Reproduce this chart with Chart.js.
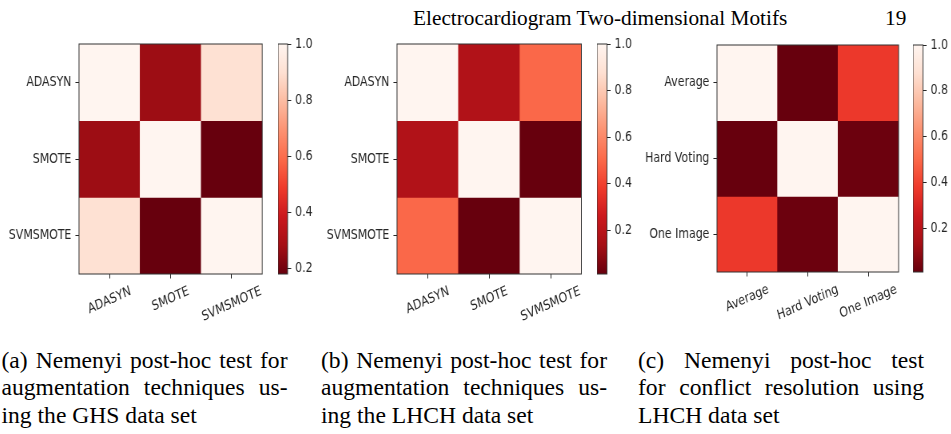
<!DOCTYPE html>
<html>
<head>
<meta charset="utf-8">
<script src="https://cdn.jsdelivr.net/npm/chart.js@4.4.1/dist/chart.umd.min.js"></script>
<style>
  body { margin:0; background:#fff; width:951px; height:434px; overflow:hidden; position:relative; font-family:'Liberation Serif', serif; color:#000; }
  canvas { position:absolute; top:0; transform-origin:0 0; transform:scaleX(0.8); }
  .hdr { position:absolute; top:4.8px; font-size:21.3px; line-height:26px; white-space:nowrap; }
  .cap { position:absolute; top:346.5px; width:286px; font-size:23.6px; line-height:27.5px; }
  .cap div { text-align:justify; text-align-last:justify; }
  .cap div.last { text-align-last:left; }
</style>
</head>
<body>
<div class="hdr" style="left:413px">Electrocardiogram Two-dimensional Motifs</div>
<div class="hdr" style="left:885px">19</div>

<div class="cap" style="left:1.5px">
  <div>(a) Nemenyi post-hoc test for</div>
  <div>augmentation techniques us-</div>
  <div class="last">ing the GHS data set</div>
</div>
<div class="cap" style="left:321px">
  <div>(b) Nemenyi post-hoc test for</div>
  <div>augmentation techniques us-</div>
  <div class="last">ing the LHCH data set</div>
</div>
<div class="cap" style="left:638px">
  <div>(c) Nemenyi post-hoc test</div>
  <div>for conflict resolution using</div>
  <div class="last">LHCH data set</div>
</div>

<script>
// categories
const labelsAug = ['ADASYN', 'SMOTE', 'SVMSMOTE'];
const labelsConf = ['Average', 'Hard Voting', 'One Image'];
// p-values (rows x cols)
const pvalGHS  = [[1.0, 0.27, 0.90], [0.27, 1.0, 0.18], [0.90, 0.18, 1.0]];
const pvalLHCH = [[1.0, 0.175, 0.50], [0.175, 1.0, 0.012], [0.50, 0.012, 1.0]];
const pvalConf = [[1.0, 0.01, 0.37], [0.01, 1.0, 0.02], [0.37, 0.02, 1.0]];
// colorbar tick labels
const cbTicks = [0.2, 0.4, 0.6, 0.8, 1.0];

// matplotlib "Reds" colormap stops
const REDS = [
  [255,245,240],[254,224,210],[252,187,161],[252,146,114],[251,106,74],
  [239,59,44],[203,24,29],[165,15,21],[103,0,13]
];
const SX = 0.8;          // horizontal squash of the figure
const INK = '#262626';

Chart.defaults.font.family = 'DejaVu Sans';
Chart.defaults.font.size = 13.7;
Chart.defaults.color = INK;

function rgb(c) { return 'rgb(' + c.map(Math.round).join(',') + ')'; }

// reversed Reds: high value -> light
function redsR(v, vmin, vmax) {
  const t = (v - vmin) / (vmax - vmin);
  const p = Math.min(8, Math.max(0, (1 - t) * 8));
  const i = Math.min(7, Math.floor(p));
  const f = p - i;
  const a = REDS[i], b = REDS[i + 1];
  return rgb([0, 1, 2].map(k => a[k] + (b[k] - a[k]) * f));
}

const frame = {
  id: 'frame',
  afterDraw(chart) {
    const a = chart.chartArea, c = chart.ctx;
    c.save();
    c.strokeStyle = '#333';
    c.lineWidth = 1;
    c.strokeRect(a.left, a.top, a.right - a.left, a.bottom - a.top);
    c.restore();
  }
};

// rotated x labels centred under their ticks (like matplotlib rotation=20)
const xLabels = {
  id: 'xLabels',
  afterDraw(chart) {
    const xs = chart.scales.x, c = chart.ctx;
    const ang = 20 * Math.PI / 180;
    c.save();
    c.font = '13.7px "DejaVu Sans"';
    c.fillStyle = INK;
    c.textAlign = 'center';
    c.textBaseline = 'middle';
    xs.getLabels().forEach((lab, i) => {
      const x = xs.getPixelForTick(i);
      const w = c.measureText(lab).width;
      const bh = w * Math.sin(ang) + 15.9 * Math.cos(ang);
      const y = chart.chartArea.bottom + 4.5 + 5 + bh / 2;
      c.save();
      c.translate(x, y);
      c.rotate(-ang);
      c.fillText(lab, 0, 0);
      c.restore();
    });
    c.restore();
  }
};

function makeCanvas(left, w, h) {
  const cv = document.createElement('canvas');
  cv.width = w;
  cv.height = h;
  cv.style.left = left + 'px';
  document.body.appendChild(cv);
  return cv.getContext('2d');
}

function heatmap(p) {
  const Ya = 95, H = 335;
  const boxW = (p.boxR - p.boxL) / SX;
  const W = Math.ceil(Ya + boxW + 30);
  const ctx = makeCanvas(p.boxL - SX * Ya, W, H);
  const flat = p.values.flat();
  const vmin = Math.min(...flat), vmax = Math.max(...flat);
  new Chart(ctx, {
    type: 'bar',
    data: {
      labels: p.labels,
      datasets: p.labels.map((_, r) => ({
        data: p.labels.map(() => [r, r + 1]),
        backgroundColor: p.values[r].map(v => redsR(v, vmin, vmax)),
        grouped: false,
        barPercentage: 1,
        categoryPercentage: 1,
        borderWidth: 0
      }))
    },
    options: {
      responsive: false,
      animation: false,
      layout: { padding: { top: p.boxT, left: 0, bottom: 0, right: W - Ya - boxW } },
      plugins: { legend: { display: false }, tooltip: { enabled: false } },
      scales: {
        x: {
          offset: true,
          border: { display: false },
          grid: { offset: false, drawOnChartArea: false, tickLength: 4.5, color: INK },
          ticks: { display: false },
          afterFit: s => { s.height = H - p.boxB; }
        },
        y: {
          min: 0, max: 3, reverse: true,
          border: { display: false },
          grid: { drawOnChartArea: false, tickLength: 4.5, color: INK },
          afterBuildTicks: s => { s.ticks = p.labels.map((_, i) => ({ value: i + 0.5 })); },
          ticks: { padding: 5, autoSkip: false, callback: (v, i) => p.labels[i] },
          afterFit: s => { s.width = Ya; }
        }
      }
    },
    plugins: [frame, xLabels]
  });

  // colorbar
  const Aw = 45;
  const barW = (p.cbR - p.cbL) / SX;
  const CW = Math.ceil(barW + Aw);
  const cctx = makeCanvas(p.cbL, CW, H);
  new Chart(cctx, {
    type: 'bar',
    data: {
      labels: [''],
      datasets: [{
        data: [[vmin, vmax]],
        backgroundColor: (c) => {
          const y = c.chart.scales.y;
          if (!y || !c.chart.chartArea) return rgb(REDS[8]);
          const g = c.chart.ctx.createLinearGradient(0, y.getPixelForValue(vmin), 0, y.getPixelForValue(vmax));
          for (let k = 0; k <= 8; k++) g.addColorStop(k / 8, rgb(REDS[8 - k]));
          return g;
        },
        barPercentage: 1,
        categoryPercentage: 1,
        borderWidth: 0
      }]
    },
    options: {
      responsive: false,
      animation: false,
      layout: { padding: { top: p.boxT, bottom: H - p.boxB, left: 0, right: CW - barW - Aw } },
      plugins: { legend: { display: false }, tooltip: { enabled: false } },
      scales: {
        x: { display: false },
        y: {
          position: 'right',
          min: vmin, max: vmax,
          border: { display: false },
          grid: { drawOnChartArea: false, tickLength: 4.5, color: INK },
          afterBuildTicks: s => { s.ticks = cbTicks.filter(t => t >= vmin).map(v => ({ value: v })); },
          ticks: { padding: 5, autoSkip: false, callback: v => v.toFixed(1) },
          afterFit: s => { s.width = Aw; }
        }
      }
    },
    plugins: [frame]
  });
}

heatmap({ labels: labelsAug, values: pvalGHS, boxL: 79, boxR: 262.3, boxT: 44, boxB: 274, cbL: 277.7, cbR: 287.3 });
heatmap({ labels: labelsAug, values: pvalLHCH, boxL: 397.3, boxR: 581.7, boxT: 44, boxB: 274, cbL: 596.7, cbR: 606.7 });
heatmap({ labels: labelsConf, values: pvalConf, boxL: 716.7, boxR: 898.3, boxT: 45, boxB: 272, cbL: 913.3, cbR: 923.3 });
</script>
</body>
</html>
